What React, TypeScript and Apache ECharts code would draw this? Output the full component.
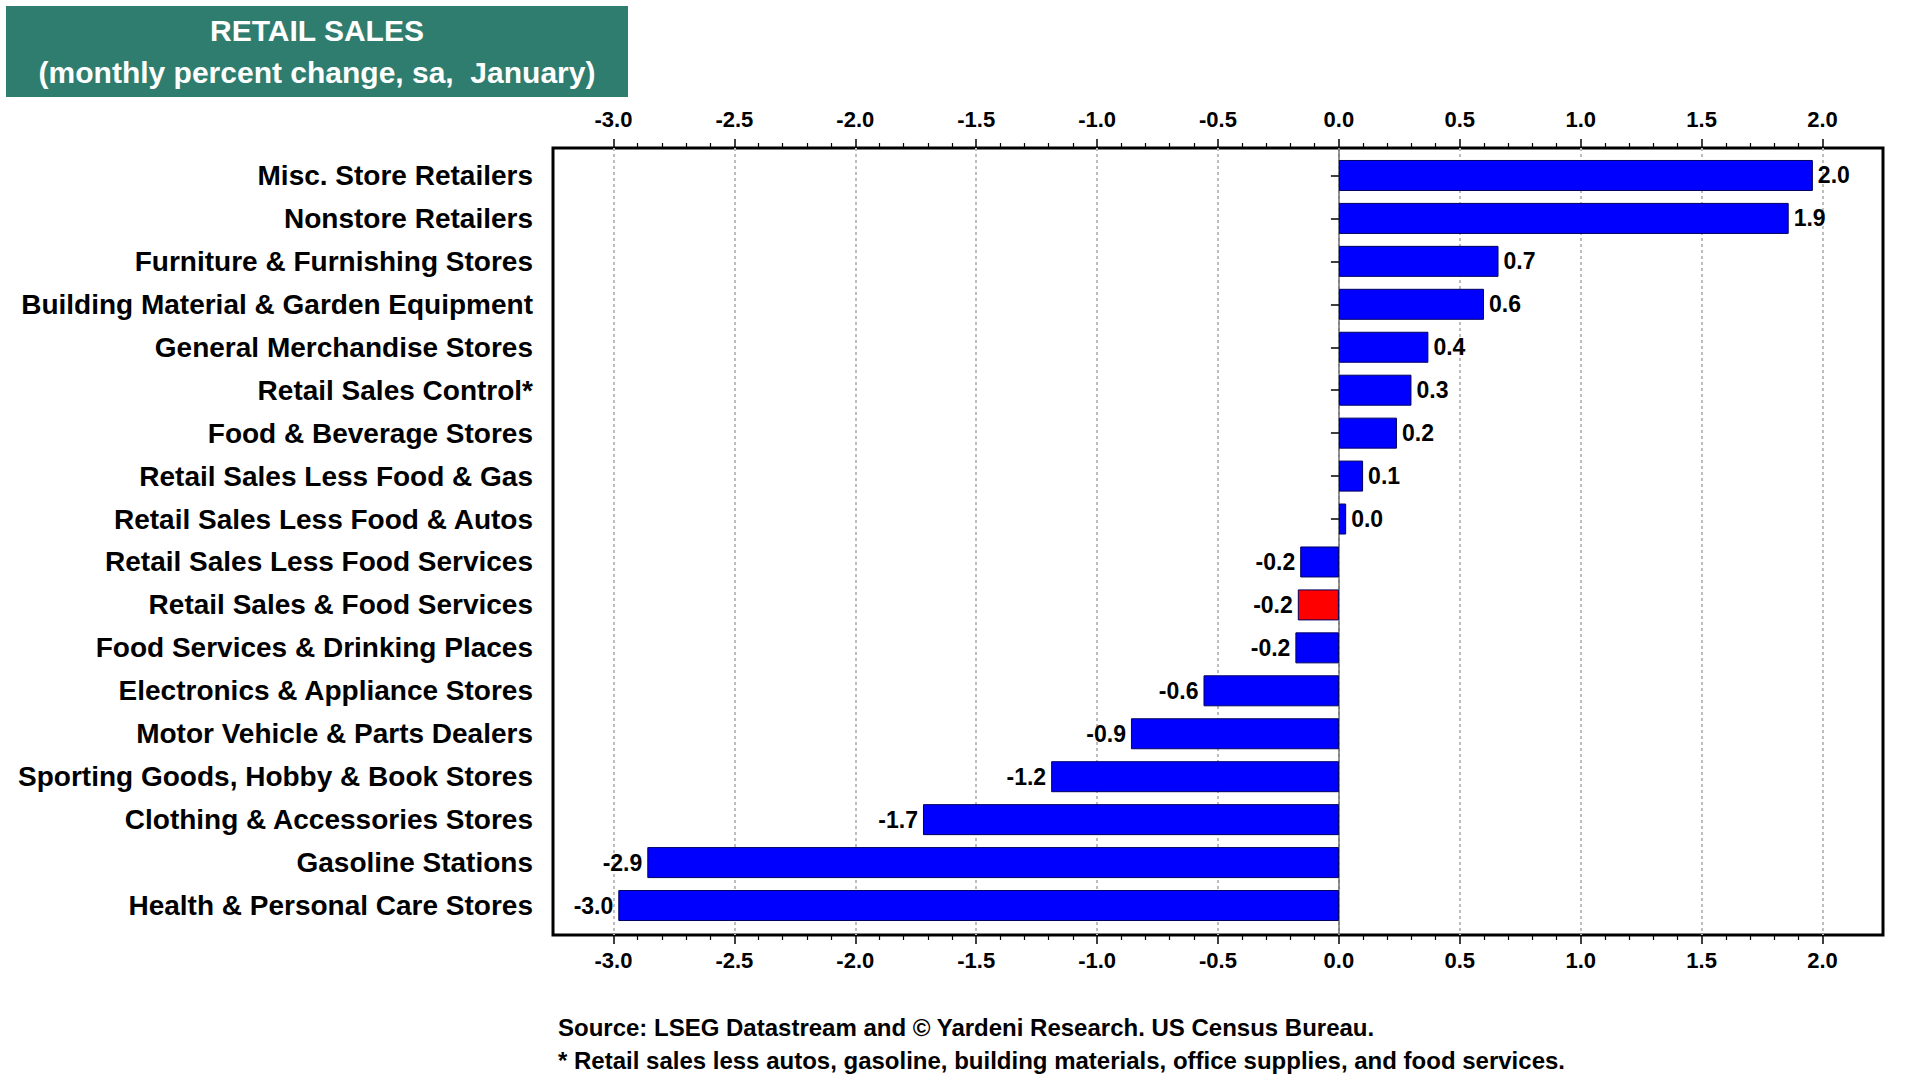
import React, { useEffect, useRef } from "react";
import * as echarts from "echarts";

const categories = [
  "Misc. Store Retailers",
  "Nonstore Retailers",
  "Furniture & Furnishing Stores",
  "Building Material & Garden Equipment",
  "General Merchandise Stores",
  "Retail Sales Control*",
  "Food & Beverage Stores",
  "Retail Sales Less Food & Gas",
  "Retail Sales Less Food & Autos",
  "Retail Sales Less Food Services",
  "Retail Sales & Food Services",
  "Food Services & Drinking Places",
  "Electronics & Appliance Stores",
  "Motor Vehicle & Parts Dealers",
  "Sporting Goods, Hobby & Book Stores",
  "Clothing & Accessories Stores",
  "Gasoline Stations",
  "Health & Personal Care Stores",
];

const values = [
  1.96, 1.86, 0.66, 0.6, 0.37, 0.3, 0.24, 0.1, 0.03, -0.16, -0.17, -0.18, -0.56,
  -0.86, -1.19, -1.72, -2.86, -2.98,
];

const highlighted = "Retail Sales & Food Services";

const majorTicks = [-3.0, -2.5, -2.0, -1.5, -1.0, -0.5, 0.0, 0.5, 1.0, 1.5, 2.0];

const minorTicks: number[] = [];
for (let i = -30; i <= 20; i++) {
  if (i % 5 !== 0) minorTicks.push(i / 10);
}

const titleLines = ["RETAIL SALES", "(monthly percent change, sa,  January)"];
const footerLines = [
  "Source: LSEG Datastream and \u00A9 Yardeni Research. US Census Bureau.",
  "* Retail sales less autos, gasoline, building materials, office supplies, and food services.",
];

const FONT = 'Arial, "Liberation Sans", Helvetica, sans-serif';
const X_MIN = -3.25;
const X_MAX = 2.25;

export default function App() {
  const ref = useRef<HTMLDivElement>(null);

  useEffect(() => {
    document.body.style.margin = "0";
    if (!ref.current) return;
    const chart = echarts.init(ref.current, undefined, { renderer: "svg" });

    const labelStyle = {
      fontFamily: FONT,
      fontWeight: "bold" as const,
      fontSize: 22,
      color: "#000",
    };

    const option: any = {
      animation: false,
      backgroundColor: "#ffffff",
      grid: [
        {
          left: 553,
          top: 148,
          width: 1330,
          height: 787,
          show: true,
          borderColor: "#000",
          borderWidth: 3,
          backgroundColor: "transparent",
        },
        { left: 553, top: 154, width: 1330, height: 773 },
      ],
      xAxis: [
        {
          gridIndex: 0,
          type: "value",
          position: "bottom",
          min: X_MIN,
          max: X_MAX,
          axisLine: { show: false },
          axisTick: {
            show: true,
            customValues: majorTicks,
            length: 9,
            lineStyle: { color: "#000", width: 1.5 },
          },
          axisLabel: {
            ...labelStyle,
            customValues: majorTicks,
            margin: 14,
            formatter: (v: number) => v.toFixed(1),
          },
          splitLine: {
            show: true,
            lineStyle: { color: "#bdbdbd", type: [3, 3], width: 2 },
          },
        },
        {
          gridIndex: 0,
          type: "value",
          position: "top",
          min: X_MIN,
          max: X_MAX,
          axisLine: { show: false },
          axisTick: {
            show: true,
            customValues: majorTicks,
            length: 9,
            lineStyle: { color: "#000", width: 1.5 },
          },
          axisLabel: {
            ...labelStyle,
            customValues: majorTicks,
            margin: 18,
            formatter: (v: number) => v.toFixed(1),
          },
          splitLine: { show: false },
        },
        {
          gridIndex: 0,
          type: "value",
          position: "bottom",
          min: X_MIN,
          max: X_MAX,
          axisLine: { show: false },
          axisTick: {
            show: true,
            customValues: minorTicks,
            length: 5,
            lineStyle: { color: "#000", width: 1.2 },
          },
          axisLabel: { show: false },
          splitLine: { show: false },
        },
        {
          gridIndex: 0,
          type: "value",
          position: "top",
          min: X_MIN,
          max: X_MAX,
          axisLine: { show: false },
          axisTick: {
            show: true,
            customValues: minorTicks,
            length: 5,
            lineStyle: { color: "#000", width: 1.2 },
          },
          axisLabel: { show: false },
          splitLine: { show: false },
        },
        {
          gridIndex: 0,
          type: "value",
          position: "bottom",
          min: X_MIN,
          max: X_MAX,
          axisLine: { show: false },
          axisTick: { show: false, customValues: [0] },
          axisLabel: { show: false },
          splitLine: {
            show: true,
            lineStyle: { color: "#707070", type: "solid", width: 1.5 },
          },
        },
        {
          gridIndex: 1,
          type: "value",
          min: X_MIN,
          max: X_MAX,
          show: false,
        },
      ],
      yAxis: [
        { gridIndex: 0, type: "value", min: 0, max: 1, show: false },
        {
          gridIndex: 1,
          type: "category",
          data: categories,
          inverse: true,
          axisLine: { show: false },
          axisTick: {
            show: true,
            alignWithLabel: true,
            length: 8,
            lineStyle: { color: "#000", width: 1.5 },
          },
          axisLabel: {
            fontFamily: FONT,
            fontWeight: "bold",
            fontSize: 28,
            color: "#000",
            margin: 20,
          },
          splitLine: { show: false },
        },
      ],
      series: [
        {
          type: "bar",
          xAxisIndex: 5,
          yAxisIndex: 1,
          barWidth: 31,
          data: values.map((v, i) => ({
            value: v,
            itemStyle: {
              color: categories[i] === highlighted ? "#ff0000" : "#0000ff",
            },
            label: { position: v >= 0 ? "right" : "left" },
          })),
          itemStyle: { borderColor: "#000060", borderWidth: 1 },
          label: {
            show: true,
            distance: 5,
            fontFamily: FONT,
            fontWeight: "bold",
            fontSize: 23,
            color: "#000",
            formatter: (p: any) => Number(p.value).toFixed(1),
          },
        },
      ],
      graphic: [
        {
          type: "rect",
          left: 6,
          top: 6,
          shape: { width: 622, height: 91 },
          style: { fill: "#2e7d6f" },
        },
        {
          type: "text",
          x: 317,
          y: 30,
          style: {
            text: titleLines[0],
            fill: "#ffffff",
            font: `bold 30px ${FONT}`,
            textAlign: "center",
            textVerticalAlign: "middle",
          },
        },
        {
          type: "text",
          x: 317,
          y: 72,
          style: {
            text: titleLines[1],
            fill: "#ffffff",
            font: `bold 30px ${FONT}`,
            textAlign: "center",
            textVerticalAlign: "middle",
          },
        },
        {
          type: "text",
          x: 558,
          y: 1027,
          style: {
            text: footerLines[0],
            fill: "#000",
            font: `bold 24px ${FONT}`,
            textAlign: "left",
            textVerticalAlign: "middle",
          },
        },
        {
          type: "text",
          x: 558,
          y: 1060,
          style: {
            text: footerLines[1],
            fill: "#000",
            font: `bold 24px ${FONT}`,
            textAlign: "left",
            textVerticalAlign: "middle",
          },
        },
      ],
    };

    chart.setOption(option);
    return () => chart.dispose();
  }, []);

  return <div ref={ref} style={{ width: 1920, height: 1080 }} />;
}
